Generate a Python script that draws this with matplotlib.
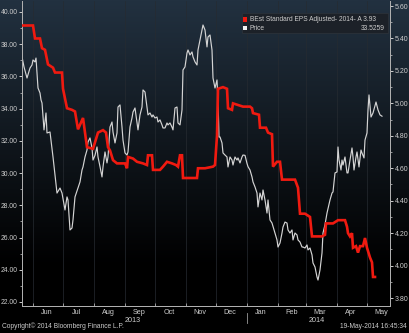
import numpy as np
import matplotlib
matplotlib.use("Agg")
import matplotlib.pyplot as plt
import matplotlib.dates as mdates
from matplotlib.ticker import MultipleLocator, FormatStrFormatter
from matplotlib.patches import Rectangle

# ---------------- data ----------------
start_date = np.datetime64('2013-05-21')          # first trading day shown
end_date = np.datetime64('2014-05-24')            # right edge of axis

# Price (left axis): days after start_date, value
price_day = [0, 2, 5, 8, 10, 11, 13, 14, 16, 18, 19, 20, 22, 24, 25, 28, 31, 35, 38, 40,
             43, 45, 46, 48, 50, 51, 53, 56, 58, 60, 61, 63, 65, 66, 68, 70, 71, 73, 75, 76,
             78, 80, 81, 83, 85, 86, 88, 90, 91, 93, 95, 96, 98, 100, 101, 103, 105, 106, 108, 110,
             111, 113, 115, 116, 118, 120, 121, 123, 125, 126, 128, 130, 131, 133, 135, 136, 138, 140, 141, 143,
             145, 146, 148, 150, 151, 153, 155, 156, 158, 160, 161, 163, 165, 166, 168, 170, 171, 173, 175, 176,
             178, 180, 181, 183, 185, 186, 188, 190, 191, 193, 195, 196, 197, 198, 200, 201, 203, 205, 206, 208,
             210, 211, 213, 215, 216, 218, 220, 221, 223, 225, 226, 228, 230, 231, 233, 235, 236, 238, 240, 241,
             243, 245, 246, 248, 250, 253, 255, 256, 258, 260, 261, 263, 265, 266, 268, 270, 271, 273, 275, 276,
             278, 280, 281, 283, 285, 286, 288, 290, 291, 293, 295, 296, 298, 300, 301, 303, 305, 308, 310, 311,
             313, 315, 316, 317, 319, 320, 321, 323, 325, 326, 328, 330, 331, 332, 334, 335, 337, 339, 340, 342,
             343, 345, 346, 347, 349, 351, 354, 356, 358, 360]
price_val = [37.21, 36.59, 35.90, 36.52, 36.71, 37.02, 36.90, 37.14, 35.28, 34.97, 34.54, 34.35, 32.68, 33.73, 32.49, 32.55, 31.00, 28.76, 29.07, 28.76,
             27.71, 28.52, 28.33, 26.47, 26.59, 27.09, 28.52, 29.07, 29.45, 30.19, 30.38, 31.00, 31.43, 31.93, 32.18, 31.56, 30.81, 31.10, 31.62, 31.00,
             30.40, 29.76, 30.38, 31.31, 30.63, 31.00, 32.86, 33.17, 32.55, 31.87, 32.49, 34.10, 34.23, 32.86, 32.05, 31.25, 31.12, 31.31, 32.86, 33.42,
             33.79, 34.04, 33.11, 32.68, 33.61, 34.10, 35.16, 35.03, 34.10, 33.61, 33.73, 33.48, 33.61, 33.42, 33.48, 33.17, 33.30, 32.99, 32.80, 32.80,
             33.11, 32.99, 33.11, 32.85, 32.68, 34.04, 34.10, 33.11, 32.99, 33.92, 36.40, 36.59, 37.45, 37.64, 37.33, 37.52, 37.21, 36.90, 36.71, 37.64,
             38.26, 38.88, 39.19, 38.88, 37.83, 38.45, 38.57, 37.64, 35.90, 35.28, 35.78, 34.54, 32.24, 32.24, 31.87, 31.25, 31.12, 31.00, 30.38, 31.00,
             30.81, 30.50, 31.00, 30.81, 30.94, 30.63, 31.00, 31.12, 31.10, 30.60, 30.40, 30.19, 29.76, 29.45, 29.14, 28.76, 27.90, 28.76, 28.33, 28.95,
             28.33, 27.52, 28.33, 27.09, 26.90, 26.28, 25.85, 25.41, 25.66, 26.28, 26.65, 26.96, 26.90, 26.47, 26.28, 26.47, 25.85, 26.28, 26.16, 25.85,
             25.72, 25.41, 25.41, 25.35, 25.54, 25.23, 25.35, 24.92, 24.42, 24.17, 23.55, 23.36, 23.99, 25.04, 26.28, 26.80, 27.52, 28.33, 28.76, 28.83,
             30.01, 30.07, 31.62, 30.81, 30.19, 30.81, 30.50, 31.00, 30.01, 30.01, 30.81, 31.56, 31.00, 30.19, 31.00, 31.31, 30.38, 31.43, 31.25, 30.94,
             32.05, 32.49, 33.92, 34.85, 33.48, 33.73, 34.41, 33.92, 33.61, 33.53]

# BEst Standard EPS Adjusted 2014 (right axis)
eps_day = [0, 11, 13, 18, 20, 23, 26, 31, 33, 40, 41, 45, 50, 53, 56, 61, 65, 71, 76, 81,
           84, 86, 88, 91, 95, 103, 105, 106, 111, 115, 121, 125, 126, 130, 131, 138, 141, 145, 150, 154,
           156, 158, 160, 161, 175, 176, 183, 191, 193, 195, 196, 201, 205, 206, 210, 211, 216, 221, 228, 230,
           231, 237, 238, 244, 246, 250, 251, 255, 258, 260, 273, 276, 278, 283, 288, 290, 300, 303, 304, 311,
           316, 323, 325, 326, 328, 330, 331, 334, 336, 338, 341, 343, 345, 348, 350, 351, 353]
eps_val = [5.48, 5.48, 5.40, 5.40, 5.34, 5.33, 5.24, 5.22, 5.19, 5.19, 5.09, 4.97, 4.96, 4.95, 4.84, 4.91, 4.73, 4.72, 4.82, 4.835,
           4.82, 4.73, 4.71, 4.65, 4.63, 4.63, 4.60, 4.67, 4.66, 4.64, 4.63, 4.62, 4.68, 4.68, 4.59, 4.59, 4.61, 4.64, 4.63, 4.62,
           4.61, 4.68, 4.68, 4.54, 4.54, 4.60, 4.60, 4.61, 4.62, 4.80, 5.09, 5.10, 5.09, 4.97, 4.96, 5.00, 4.99, 4.98, 4.98, 4.97,
           4.94, 4.93, 4.85, 4.85, 4.82, 4.81, 4.61, 4.64, 4.64, 4.53, 4.53, 4.48, 4.32, 4.32, 4.30, 4.18, 4.18, 4.19, 4.26, 4.26,
           4.28, 4.28, 4.24, 4.20, 4.18, 4.20, 4.11, 4.12, 4.08, 4.12, 4.12, 4.17, 4.11, 4.05, 4.02, 3.93, 3.93]

left_ticks = [22, 24, 26, 28, 30, 32, 34, 36, 38, 40]
right_ticks = [3.8, 4.0, 4.2, 4.4, 4.6, 4.8, 5.0, 5.2, 5.4, 5.6]
year_labels = [('2013', '2013-09-09'), ('2014', '2014-03-12')]
legend_eps = 'BEst Standard EPS Adjusted- 2014- A 3.93'
legend_price = 'Price'
legend_price_val = '33.5259'
copyright_text = 'Copyright\u00a9 2014 Bloomberg Finance L.P.'
stamp_text = '19-May-2014 16:45:34'

# ---------------- drawing ----------------
plt.rcParams['font.family'] = ['Liberation Sans', 'DejaVu Sans']
W, H = 410, 333
fig = plt.figure(figsize=(W / 100, H / 100), dpi=100)
fig.patch.set_facecolor('black')

# background gradient over the whole figure
bg = fig.add_axes([0, 0, 1, 1], zorder=-10)
bg.set_axis_off()
ys = np.linspace(0, 1, 256)
top = np.array([0x22, 0x31, 0x40]) / 255.0
mid = np.array([0x0f, 0x15, 0x1b]) / 255.0
bot = np.array([0.0, 0.0, 0.0])
cols = np.zeros((256, 1, 3))
for i, t in enumerate(ys):
    if t < 0.45:
        c = top + (mid - top) * (t / 0.45)
    elif t < 0.8:
        c = mid + (bot - mid) * ((t - 0.45) / 0.35)
    else:
        c = bot
    cols[i, 0] = c
bg.imshow(cols, aspect='auto', extent=[0, 1, 0, 1], origin='upper')
bg.set_xlim(0, 1)
bg.set_ylim(0, 1)

ax_left, ax_bottom = 22 / W, (H - 306) / H
ax_w, ax_h = 368 / W, 305 / H
ax = fig.add_axes([ax_left, ax_bottom, ax_w, ax_h])
ax.set_facecolor('none')
ax2 = ax.twinx()
ax2.set_facecolor('none')

p_dates = start_date + np.array(price_day).astype('timedelta64[D]')
e_dates = start_date + np.array(eps_day).astype('timedelta64[D]')

ax.plot(p_dates, price_val, color='#d4d4d4', lw=0.85, zorder=3)
ax2.plot(e_dates, eps_val, color='#f01a10', lw=1.9, zorder=4, solid_joinstyle='miter')

ax.set_xlim(start_date, end_date)
ax.set_ylim(21.75, 40.68)
ax2.set_ylim(3.751, 5.631)

lab_col = '#cccccc'
spine_col = '#b0b0b0'
for a in (ax, ax2):
    for s in a.spines.values():
        s.set_color(spine_col)
        s.set_linewidth(0.7)
    a.spines['top'].set_visible(False)

ax.set_yticks(left_ticks)
ax.yaxis.set_major_formatter(FormatStrFormatter('%.2f'))
ax.yaxis.set_minor_locator(MultipleLocator(1))
ax.tick_params(axis='y', which='major', direction='out', length=2.5, width=0.7,
               colors=lab_col, labelsize=4.9, pad=0.8)
ax.tick_params(axis='y', which='minor', direction='out', length=1.5, width=0.5, colors=lab_col)

ax2.set_yticks(right_ticks)
ax2.yaxis.set_major_formatter(FormatStrFormatter('%.2f'))
ax2.yaxis.set_minor_locator(MultipleLocator(0.1))
ax2.tick_params(axis='y', which='major', direction='out', length=2.5, width=0.7,
                colors=lab_col, labelsize=5.0, pad=0.8)
ax2.tick_params(axis='y', which='minor', direction='out', length=1.5, width=0.5, colors=lab_col)

# x axis: ticks at month starts, labels at mid-month
ax.xaxis.set_major_locator(mdates.MonthLocator(bymonthday=1))
ax.xaxis.set_major_formatter(plt.NullFormatter())
ax.xaxis.set_minor_locator(mdates.MonthLocator(bymonthday=15))
ax.xaxis.set_minor_formatter(mdates.DateFormatter('%b'))
ax.tick_params(axis='x', which='major', direction='in', length=2, width=0.6, colors=spine_col)
ax.tick_params(axis='x', which='minor', length=0, labelsize=5.2, labelcolor=lab_col, pad=2)
ax2.tick_params(axis='x', which='both', length=0)
ax.grid(axis='x', which='major', color='#262b31', lw=0.5)

for lab, d in year_labels:
    ax.text(np.datetime64(d), -0.047, lab, transform=ax.get_xaxis_transform(),
            ha='center', va='center', fontsize=5.2, color=lab_col)
ax.plot([np.datetime64('2014-01-01')] * 2, [-0.022, -0.055], transform=ax.get_xaxis_transform(),
        color='#9a9a9a', lw=0.6, clip_on=False)

# legend panel
lx0, ly0, lx1, ly1 = 242, 13, 388, 33
fig.patches.append(Rectangle((lx0 / W, 1 - ly1 / H), (lx1 - lx0) / W, (ly1 - ly0) / H,
                             transform=fig.transFigure, facecolor='#1c2128',
                             edgecolor='#2b3139', lw=0.6, zorder=5))
fig.patches.append(Rectangle((243 / W, 1 - 21.7 / H), 4.5 / W, 4.5 / H, transform=fig.transFigure,
                             facecolor='#f01a10', edgecolor='none', zorder=6))
fig.patches.append(Rectangle((243 / W, 1 - 30 / H), 4.5 / W, 4.5 / H, transform=fig.transFigure,
                             facecolor='#f2f2f2', edgecolor='none', zorder=6))
fig.text(250 / W, 1 - 19.5 / H, legend_eps, fontsize=4.8, color=lab_col, va='center', ha='left', zorder=7)
fig.text(250 / W, 1 - 28 / H, legend_price, fontsize=4.8, color=lab_col, va='center', ha='left', zorder=7)
fig.text(385 / W, 1 - 28 / H, legend_price_val, fontsize=4.8, color=lab_col, va='center', ha='right', zorder=7)

fig.text(2 / W, 1 - 326 / H, copyright_text, fontsize=4.8, color=lab_col, va='center', ha='left')
fig.text(407 / W, 1 - 326 / H, stamp_text, fontsize=4.8, color=lab_col, va='center', ha='right')

fig.savefig('out.png', dpi=100, facecolor=fig.get_facecolor())
